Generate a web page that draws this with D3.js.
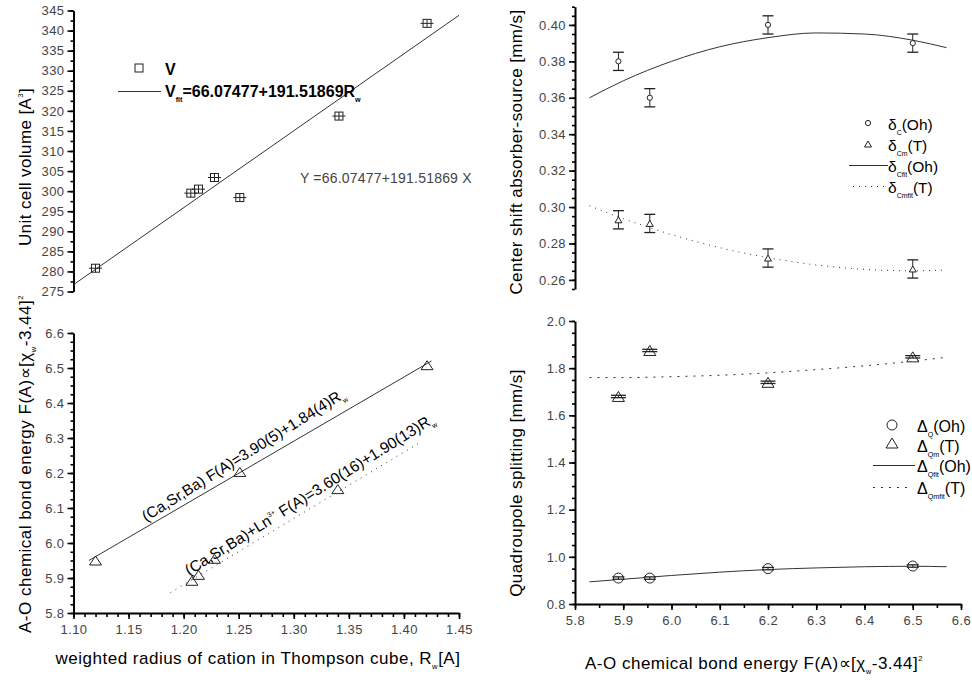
<!DOCTYPE html>
<html><head><meta charset="utf-8">
<script src="https://cdn.jsdelivr.net/npm/d3@7"></script>
<style>
body{margin:0;background:#fff;}
svg{display:block;font-family:"Liberation Sans",Arial,sans-serif;}
</style></head><body>
<svg id="c" width="972" height="684"></svg>
<script>
// ---------- data ----------
// top-left: unit cell volume vs weighted radius
const radiusV = [1.12, 1.2065, 1.2135, 1.228, 1.251, 1.341, 1.421];
const volume = [280.8, 299.5, 300.5, 303.4, 298.4, 318.7, 341.8];
const volumeFitX = [1.10, 1.45];
const volumeFitY = [276.7, 343.8];
// bottom-left: bond energy vs weighted radius
const radiusF = [1.12, 1.2075, 1.2135, 1.228, 1.251, 1.34, 1.421];
const bondEnergy = [5.95, 5.892, 5.909, 5.955, 6.203, 6.154, 6.508];
const fitCSBx = [1.114, 1.425];
const fitCSBy = [5.95, 6.52];
const fitLnX = [1.188, 1.415];
const fitLnY = [5.858, 6.288];
// right panels
const energy = [5.89, 5.955, 6.2, 6.5];
const deltaC = [0.38, 0.36, 0.40, 0.39];
const deltaCm = [0.293, 0.291, 0.272, 0.266];
const deltaErr = [0.005, 0.005, 0.005, 0.005];
const fitEnergy = [5.83, 5.9, 6.0, 6.1, 6.2, 6.3, 6.4, 6.5, 6.57];
const deltaCfit = [0.360, 0.3693, 0.380, 0.388, 0.393, 0.3956, 0.395, 0.3916, 0.3875];
const deltaCmfit = [0.3007, 0.2936, 0.2849, 0.2777, 0.2722, 0.2682, 0.2658, 0.265, 0.2654];
const quadQ = [0.91, 0.91, 0.95, 0.961];
const quadQm = [1.68, 1.875, 1.74, 1.848];
const quadErr = [0.005, 0.005, 0.005, 0.005];
const quadQfit = [0.894, 0.905, 0.921, 0.935, 0.946, 0.953, 0.958, 0.960, 0.958];
const quadQmfit = [1.760, 1.760, 1.764, 1.770, 1.780, 1.794, 1.810, 1.830, 1.846];
// tick values
const ticksV = d3.range(275, 346, 5);
const ticksF = [5.8, 5.9, 6.0, 6.1, 6.2, 6.3, 6.4, 6.5, 6.6];
const ticksR = [1.10, 1.15, 1.20, 1.25, 1.30, 1.35, 1.40, 1.45];
const ticksD = [0.26, 0.28, 0.30, 0.32, 0.34, 0.36, 0.38, 0.40];
const ticksQ = [0.8, 1.0, 1.2, 1.4, 1.6, 1.8, 2.0];
const ticksE = [5.8, 5.9, 6.0, 6.1, 6.2, 6.3, 6.4, 6.5, 6.6];

// ---------- layout ----------
const svg = d3.select("#c");
const ink = "#222";
const xR = d3.scaleLinear([1.10, 1.45], [73.5, 459]);
const yV = d3.scaleLinear([275, 345], [291.5, 10.5]);
const yF = d3.scaleLinear([5.8, 6.6], [613, 333]);
const xE = d3.scaleLinear([5.8, 6.6], [575, 961]);
const yD = d3.scaleLinear([0.255, 0.41], [289, 6.7]);
const yQ = d3.scaleLinear([0.8, 2.0], [604, 321]);

function minorRange(a, b, s) { const n = Math.round((b - a) / s); return d3.range(n + 1).map(i => +(a + i * s).toFixed(4)); }

function styleLabels(g) {
  g.selectAll(".tick text").attr("fill", "#444").style("font-size", "13px")
    .style("letter-spacing", "0.4px").style("font-family", "Liberation Sans, Arial, sans-serif");
}
function yAxis(x, scale, majors, minors, fmt) {
  const g = svg.append("g").attr("transform", `translate(${x},0)`);
  g.call(d3.axisLeft(scale).tickValues(minors).tickSize(3).tickSizeOuter(0).tickFormat(""));
  g.selectAll(".tick line").attr("stroke", "#000").attr("stroke-width", 1.6);
  g.select(".domain").remove();
  const g2 = svg.append("g").attr("transform", `translate(${x},0)`);
  g2.call(d3.axisLeft(scale).tickValues(majors).tickSize(6).tickSizeOuter(0).tickFormat(fmt).tickPadding(3));
  g2.select(".domain").attr("stroke", "#000").attr("stroke-width", 2);
  g2.selectAll(".tick line").attr("stroke", "#000").attr("stroke-width", 1.6);
  styleLabels(g2);
}
function xAxis(y, scale, majors, minors, fmt) {
  const g = svg.append("g").attr("transform", `translate(0,${y})`);
  g.call(d3.axisBottom(scale).tickValues(minors).tickSize(4).tickSizeOuter(0).tickFormat(""));
  g.selectAll(".tick line").attr("stroke", "#000").attr("stroke-width", 1.6);
  g.select(".domain").remove();
  const g2 = svg.append("g").attr("transform", `translate(0,${y})`);
  g2.call(d3.axisBottom(scale).tickValues(majors).tickSize(6).tickSizeOuter(0).tickFormat(fmt).tickPadding(6));
  g2.select(".domain").attr("stroke", "#000").attr("stroke-width", 2);
  g2.selectAll(".tick line").attr("stroke", "#000").attr("stroke-width", 1.6);
  styleLabels(g2);
}

yAxis(73.5, yV, ticksV, minorRange(275, 345, 2.5), d3.format("d"));
yAxis(73.5, yF, ticksF, minorRange(5.8, 6.6, 0.025), d3.format(".1f"));
xAxis(613, xR, ticksR, minorRange(1.10, 1.45, 0.01), d3.format(".2f"));
yAxis(575, yD, ticksD, minorRange(0.255, 0.41, 0.005), d3.format(".2f"));
yAxis(575, yQ, ticksQ, minorRange(0.8, 2.0, 0.05), d3.format(".1f"));
xAxis(604, xE, ticksE, minorRange(5.8, 6.6, 0.05), d3.format(".1f"));

// ---------- rich text helper ----------
function rich(x, y, parts, o = {}) {
  const size = o.size || 16;
  const t = svg.append("text").attr("x", x).attr("y", y)
    .attr("fill", o.fill || "#000").style("font-size", size + "px")
    .attr("text-anchor", o.anchor || "start");
  if (o.weight) t.style("font-weight", o.weight);
  if (o.spacing) t.style("letter-spacing", o.spacing + "px");
  if (o.rotate !== undefined) t.attr("transform", `rotate(${o.rotate},${x},${y})`);
  let shift = 0;
  parts.forEach(p => {
    const [s, kind] = Array.isArray(p) ? p : [p, "n"];
    const target = kind === "sub" ? size * 0.3 : kind === "sup" ? -size * 0.45 : 0;
    const ts = t.append("tspan").text(s).attr("dy", target - shift);
    if (kind !== "n") ts.style("font-size", (size * 0.45) + "px");
    shift = target;
  });
  return t;
}

// ---------- top-left panel ----------
const lineGen = (xs, ys, sx, sy) => d3.line().x((d, i) => sx(xs[i])).y((d, i) => sy(ys[i]));
svg.append("path").datum(volumeFitX).attr("d", lineGen(volumeFitX, volumeFitY, xR, yV))
  .attr("fill", "none").attr("stroke", "#333").attr("stroke-width", 1);
const sq = svg.append("g").selectAll("g").data(radiusV).join("g")
  .attr("transform", (d, i) => `translate(${xR(d)},${yV(volume[i])})`);
sq.append("rect").attr("x", -4).attr("y", -4).attr("width", 8).attr("height", 8)
  .attr("fill", "none").attr("stroke", ink).attr("stroke-width", 1);
sq.append("line").attr("x1", -6.5).attr("x2", 6.5).attr("stroke", ink);
sq.append("line").attr("y1", -4).attr("y2", 4).attr("stroke", ink);

// legend
svg.append("rect").attr("x", 135).attr("y", 64).attr("width", 8).attr("height", 8)
  .attr("fill", "none").attr("stroke", ink);
rich(165, 75, ["V"], { size: 16, weight: "bold" });
svg.append("line").attr("x1", 118).attr("x2", 161).attr("y1", 91.5).attr("y2", 91.5).attr("stroke", "#333");
rich(165, 97, ["V", ["fit", "sub"], "=66.07477+191.51869R", ["w", "sub"]], { size: 16, weight: "bold" });
rich(300, 183, ["Y =66.07477+191.51869 X"], { size: 14, fill: "#444", spacing: 0.2 });
rich(31, 167, ["Unit cell volume [A", ["3", "sup"], "]"], { size: 17, anchor: "middle", rotate: -90, spacing: 0.4 });

// ---------- bottom-left panel ----------
svg.append("path").datum(fitCSBx).attr("d", lineGen(fitCSBx, fitCSBy, xR, yF))
  .attr("fill", "none").attr("stroke", "#333").attr("stroke-width", 1);
svg.append("path").datum(fitLnX).attr("d", lineGen(fitLnX, fitLnY, xR, yF))
  .attr("fill", "none").attr("stroke", "#333").attr("stroke-width", 1).attr("stroke-dasharray", "1 5");
const triPath = (w, h) => `M0,${-h / 2}L${w / 2},${h / 2}L${-w / 2},${h / 2}Z`;
svg.append("g").selectAll("path").data(radiusF).join("path")
  .attr("transform", (d, i) => `translate(${xR(d)},${yF(bondEnergy[i])})`)
  .attr("d", triPath(12, 9)).attr("fill", "none").attr("stroke", ink);
rich(146, 522, ["(Ca,Sr,Ba) F(A)=3.90(5)+1.84(4)R", ["w", "sub"]], { size: 15.3, rotate: -32 });
rich(189, 576, ["(Ca,Sr,Ba)+Ln", ["3+", "sup"], "  F(A)=3.60(16)+1.90(13)R", ["w", "sub"]], { size: 15.5, rotate: -32 });
rich(31, 464, ["A-O chemical bond energy F(A)\u221D[\u03C7", ["w", "sub"], "-3.44]", ["2", "sup"]], { size: 17, anchor: "middle", rotate: -90, spacing: 0.5 });
rich(258, 664, ["weighted radius of cation in Thompson cube, R", ["w", "sub"], "[A]"], { size: 17, anchor: "middle", spacing: 0.5 });

// ---------- top-right panel ----------
const curve = (xs, ys, sy) => d3.line().curve(d3.curveMonotoneX).x((d, i) => xE(xs[i])).y((d, i) => sy(ys[i]));
svg.append("path").datum(fitEnergy).attr("d", curve(fitEnergy, deltaCfit, yD))
  .attr("fill", "none").attr("stroke", "#333").attr("stroke-width", 1);
svg.append("path").datum(fitEnergy).attr("d", curve(fitEnergy, deltaCmfit, yD))
  .attr("fill", "none").attr("stroke", "#333").attr("stroke-width", 1).attr("stroke-dasharray", "1 5");

function errBars(xs, ys, es, sy, cap) {
  const g = svg.append("g").selectAll("g").data(xs).join("g");
  g.append("line").attr("x1", d => xE(d)).attr("x2", d => xE(d))
    .attr("y1", (d, i) => sy(ys[i] - es[i])).attr("y2", (d, i) => sy(ys[i] + es[i])).attr("stroke", ink);
  g.append("line").attr("x1", d => xE(d) - cap).attr("x2", d => xE(d) + cap)
    .attr("y1", (d, i) => sy(ys[i] - es[i])).attr("y2", (d, i) => sy(ys[i] - es[i])).attr("stroke", ink).attr("stroke-width", 1.3);
  g.append("line").attr("x1", d => xE(d) - cap).attr("x2", d => xE(d) + cap)
    .attr("y1", (d, i) => sy(ys[i] + es[i])).attr("y2", (d, i) => sy(ys[i] + es[i])).attr("stroke", ink).attr("stroke-width", 1.3);
}
errBars(energy, deltaC, deltaErr, yD, 5.5);
errBars(energy, deltaCm, deltaErr, yD, 5.5);
svg.append("g").selectAll("circle").data(energy).join("circle")
  .attr("cx", d => xE(d)).attr("cy", (d, i) => yD(deltaC[i])).attr("r", 2.6)
  .attr("fill", "#fff").attr("stroke", ink);
svg.append("g").selectAll("path").data(energy).join("path")
  .attr("transform", (d, i) => `translate(${xE(d)},${yD(deltaCm[i])})`)
  .attr("d", triPath(7, 6)).attr("fill", "#fff").attr("stroke", ink);
// legend
svg.append("circle").attr("cx", 868).attr("cy", 123).attr("r", 2.6).attr("fill", "none").attr("stroke", ink);
rich(888, 130, ["\u03B4", ["C", "sub"], "(Oh)"], { size: 15.5 });
svg.append("path").attr("transform", "translate(868,144)").attr("d", triPath(7, 6)).attr("fill", "none").attr("stroke", ink);
rich(888, 151, ["\u03B4", ["Cm", "sub"], "(T)"], { size: 15.5 });
svg.append("line").attr("x1", 849).attr("x2", 888).attr("y1", 165.5).attr("y2", 165.5).attr("stroke", "#333");
rich(888, 172, ["\u03B4", ["Cfit", "sub"], "(Oh)"], { size: 15.5 });
svg.append("line").attr("x1", 853).attr("x2", 888).attr("y1", 186.5).attr("y2", 186.5).attr("stroke", "#333").attr("stroke-dasharray", "1 5");
rich(888, 193, ["\u03B4", ["Cmfit", "sub"], "(T)"], { size: 15.5 });
rich(522, 152, ["Center shift absorber-source [mm/s]"], { size: 17, anchor: "middle", rotate: -90, spacing: 0.4 });

// ---------- bottom-right panel ----------
svg.append("path").datum(fitEnergy).attr("d", curve(fitEnergy, quadQfit, yQ))
  .attr("fill", "none").attr("stroke", "#333").attr("stroke-width", 1);
svg.append("path").datum(fitEnergy).attr("d", curve(fitEnergy, quadQmfit, yQ))
  .attr("fill", "none").attr("stroke", "#333").attr("stroke-width", 1).attr("stroke-dasharray", "2 6");
svg.append("g").selectAll("circle").data(energy).join("circle")
  .attr("cx", d => xE(d)).attr("cy", (d, i) => yQ(quadQ[i])).attr("r", 5)
  .attr("fill", "#fff").attr("stroke", ink);
svg.append("g").selectAll("path").data(energy).join("path")
  .attr("transform", (d, i) => `translate(${xE(d)},${yQ(quadQm[i])})`)
  .attr("d", triPath(12, 10)).attr("fill", "#fff").attr("stroke", ink);
errBars(energy, quadQ, quadErr, yQ, 6);
errBars(energy, quadQm, quadErr, yQ, 7.5);
// legend
svg.append("circle").attr("cx", 892).attr("cy", 425).attr("r", 5).attr("fill", "none").attr("stroke", ink);
rich(917, 432, ["\u0394", ["Q", "sub"], "(Oh)"], { size: 16 });
svg.append("path").attr("transform", "translate(892,443)").attr("d", triPath(12, 10)).attr("fill", "none").attr("stroke", ink);
rich(917, 452, ["\u0394", ["Qm", "sub"], "(T)"], { size: 16 });
svg.append("line").attr("x1", 873).attr("x2", 915).attr("y1", 465.5).attr("y2", 465.5).attr("stroke", "#333");
rich(917, 472, ["\u0394", ["Qfit", "sub"], "(Oh)"], { size: 16 });
svg.append("line").attr("x1", 873).attr("x2", 910).attr("y1", 487.5).attr("y2", 487.5).attr("stroke", "#333").attr("stroke-dasharray", "2 6");
rich(917, 494, ["\u0394", ["Qmfit", "sub"], "(T)"], { size: 16 });
rich(522, 483, ["Quadroupole splitting [mm/s]"], { size: 17, anchor: "middle", rotate: -90, spacing: 0.4 });
rich(754, 669, ["A-O chemical bond energy F(A)\u221D[\u03C7", ["w", "sub"], "-3.44]", ["2", "sup"]], { size: 17, anchor: "middle", spacing: 0.5 });
</script>
</body></html>
